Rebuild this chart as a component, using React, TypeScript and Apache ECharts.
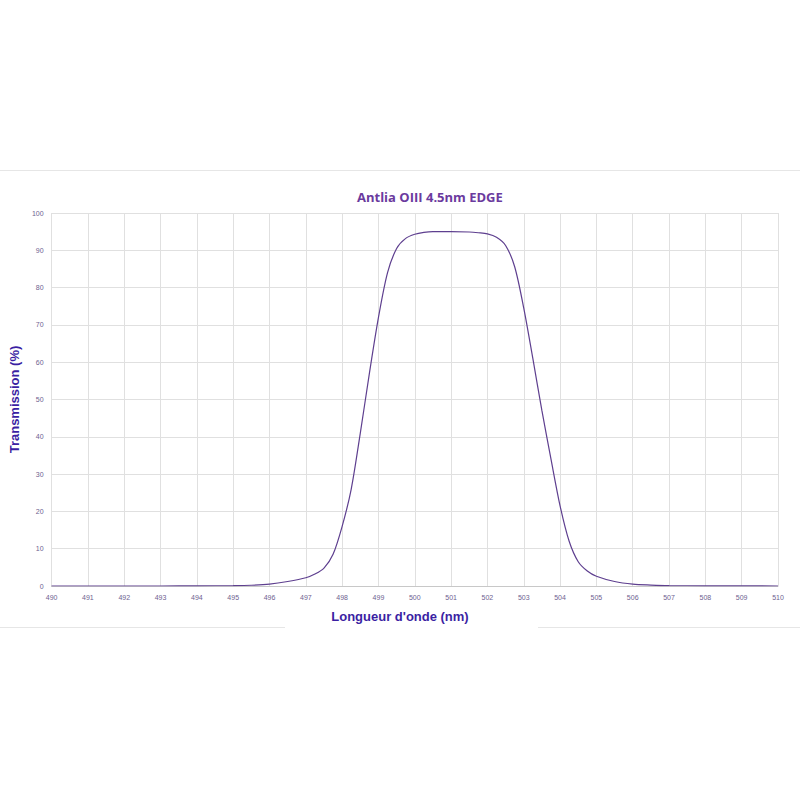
import { useEffect, useRef } from "react";
import * as echarts from "echarts";

// wavelength (nm) and transmission (%)
const wavelengths = [
  490, 491, 492, 493, 494, 495, 495.5, 496, 496.5, 497, 497.25, 497.5, 497.75,
  498, 498.25, 498.5, 498.75, 499, 499.25, 499.5, 499.75, 500, 500.25, 500.5,
  501, 501.5, 501.75, 502, 502.25, 502.5, 502.75, 503, 503.25, 503.5, 503.75,
  504, 504.25, 504.5, 504.75, 505, 505.5, 506, 506.5, 507, 508, 509, 510,
];
const transmission = [
  0, 0, 0, 0, 0.05, 0.1, 0.2, 0.5, 1.2, 2.2, 3.2, 4.8, 8.5,
  16, 26, 41, 57, 72, 84, 90.5, 93.2, 94.3, 94.8, 95,
  95, 94.9, 94.7, 94.4, 93.5, 91.3, 85.6, 74.5, 61, 47, 34,
  21.5, 12, 6.5, 4, 2.6, 1.2, 0.5, 0.25, 0.1, 0.05, 0.02, 0,
];

const titleText = "Antlia OIII 4.5nm EDGE";
const xName = "Longueur d'onde (nm)";
const yName = "Transmission (%)";

const App = () => {
  const chartRef = useRef<HTMLDivElement>(null);

  useEffect(() => {
    if (!chartRef.current) return;
    document.body.style.margin = "0";
    const chart = echarts.init(chartRef.current, undefined, { renderer: "svg" });

    chart.setOption({
      animation: false,
      backgroundColor: "#ffffff",
      title: {
        text: titleText,
        left: 352,
        top: 185,
        textStyle: {
          fontFamily: "Open Sans",
          fontSize: 13,
          fontWeight: "bold",
          color: "#6b3a9e",
        },
      },
      grid: { left: 51, right: 22, top: 213, bottom: 214 },
      xAxis: {
        type: "value",
        min: 490,
        max: 510,
        interval: 1,
        axisLine: { show: true, lineStyle: { color: "#c8c8c8" } },
        axisTick: { show: false },
        axisLabel: { fontSize: 7, color: "#6e6290", margin: 8 },
        splitLine: { show: true, lineStyle: { color: "#e0e0e0" } },
      },
      yAxis: {
        type: "value",
        min: 0,
        max: 100,
        interval: 10,
        name: yName,
        nameLocation: "middle",
        nameGap: 28,
        nameTextStyle: {
          fontFamily: "Liberation Sans",
          fontSize: 13,
          fontWeight: "bold",
          color: "#3b1fa3",
        },
        axisLine: { show: false },
        axisTick: { show: false },
        axisLabel: { fontSize: 7, color: "#6e6290", margin: 8 },
        splitLine: { show: true, lineStyle: { color: "#e0e0e0" } },
      },
      graphic: [
        {
          type: "line",
          shape: { x1: 0, y1: 170.5, x2: 800, y2: 170.5 },
          style: { stroke: "#e6e6e6", lineWidth: 1 },
        },
        {
          type: "line",
          shape: { x1: 0, y1: 627.5, x2: 285, y2: 627.5 },
          style: { stroke: "#e6e6e6", lineWidth: 1 },
        },
        {
          type: "line",
          shape: { x1: 538, y1: 627.5, x2: 800, y2: 627.5 },
          style: { stroke: "#e6e6e6", lineWidth: 1 },
        },
        {
          type: "text",
          x: 400,
          y: 616,
          style: {
            text: xName,
            fontFamily: "Liberation Sans",
            fontSize: 13,
            fontWeight: "bold",
            fill: "#3b1fa3",
            textAlign: "center",
            textVerticalAlign: "middle",
          },
        },
      ],
      series: [
        {
          type: "line",
          data: wavelengths.map((w, i) => [w, transmission[i]]),
          smooth: 0.3,
          showSymbol: false,
          lineStyle: { color: "#5e3f8f", width: 1.2 },
        },
      ],
    });

    return () => {
      chart.dispose();
    };
  }, []);

  return <div ref={chartRef} style={{ width: "800px", height: "800px" }} />;
};

export default App;
